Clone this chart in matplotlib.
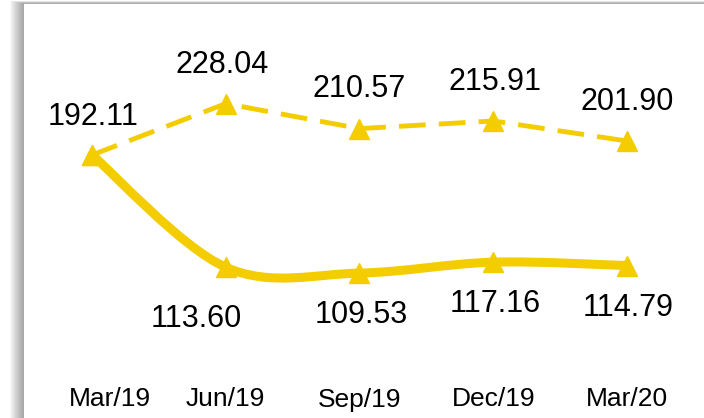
import numpy as np
import matplotlib
matplotlib.use("Agg")
import matplotlib.pyplot as plt
from matplotlib.patches import Rectangle, PathPatch
from matplotlib.path import Path
from matplotlib.transforms import ScaledTranslation

plt.rcParams['font.family'] = ['Liberation Sans', 'DejaVu Sans']

# data
quarters = ["Mar/19", "Jun/19", "Sep/19", "Dec/19", "Mar/20"]
upper = [192.11, 228.04, 210.57, 215.91, 201.90]
lower = [192.11, 113.60, 109.53, 117.16, 114.79]

yellow = '#F3CD00'
W, H = 704, 418

fig = plt.figure(figsize=(W / 100, H / 100), dpi=100)
fig.patch.set_facecolor('white')

# soft shadow on the left / top of the white card
for k in range(1, 15):
    fig.patches.append(Rectangle(((24 - k) / W, -0.05), 1.1, (H - 4 + k * 0.25) / H + 0.05,
                                 transform=fig.transFigure, facecolor='black',
                                 alpha=0.028, edgecolor='none', zorder=0))
fig.patches.append(Rectangle((24 / W, -0.05), 1.1, (H - 4) / H + 0.05,
                             transform=fig.transFigure, facecolor='white',
                             edgecolor='none', zorder=1))

ax = fig.add_axes([0, 43 / H, 1, 1 - 43 / H])
ax.set_facecolor('none')
ax.set_zorder(2)
for s in ax.spines.values():
    s.set_visible(False)

x = np.arange(len(quarters))
ax.set_xlim(-0.688, 4.576)
ax.set_ylim(38.25, 300.5)

# dashed series
ax.plot(x, upper, color=yellow, lw=3.5, dashes=(5.5, 2.7), marker='^', ms=14,
        mec=yellow, mfc=yellow, solid_capstyle='butt', zorder=3)

# smoothed solid series (Catmull-Rom -> cubic Bezier)
pts = np.column_stack([x, lower]).astype(float)
verts = [pts[0]]
codes = [Path.MOVETO]
n = len(pts)
for i in range(n - 1):
    p0 = pts[max(i - 1, 0)]
    p1 = pts[i]
    p2 = pts[i + 1]
    p3 = pts[min(i + 2, n - 1)]
    verts += [p1 + (p2 - p0) / 6, p2 - (p3 - p1) / 6, p2]
    codes += [Path.CURVE4] * 3
ax.add_patch(PathPatch(Path(verts, codes), fill=False, edgecolor=yellow, lw=6.5,
                       capstyle='round', joinstyle='round', zorder=3))
ax.plot(x, lower, ls='none', marker='^', ms=14, color=yellow, zorder=4)

# value labels
up_off = [(1, 38), (-4, 39), (0, 40), (2, 39), (0, 39)]
lo_off = [None, (-30, -52), (2, -42), (2, -42), (1, -42)]
for i, v in enumerate(upper):
    ax.annotate(f"{v:.2f}", (x[i], v), xytext=up_off[i], textcoords='offset pixels',
                ha='center', va='center', fontsize=22, color='black')
for i, v in enumerate(lower):
    if lo_off[i] is None:
        continue
    ax.annotate(f"{v:.2f}", (x[i], v), xytext=lo_off[i], textcoords='offset pixels',
                ha='center', va='center', fontsize=22, color='black')

ax.set_xticks(x)
ax.set_xticklabels(quarters, fontsize=19)
ax.tick_params(axis='x', length=0, pad=9)
ax.set_yticks([])
# first category label sits a bit right of its point
lbl0 = ax.get_xticklabels()[0]
lbl0.set_transform(lbl0.get_transform() + ScaledTranslation(18 / 100, 0, fig.dpi_scale_trans))

fig.savefig("out.png", dpi=100)
